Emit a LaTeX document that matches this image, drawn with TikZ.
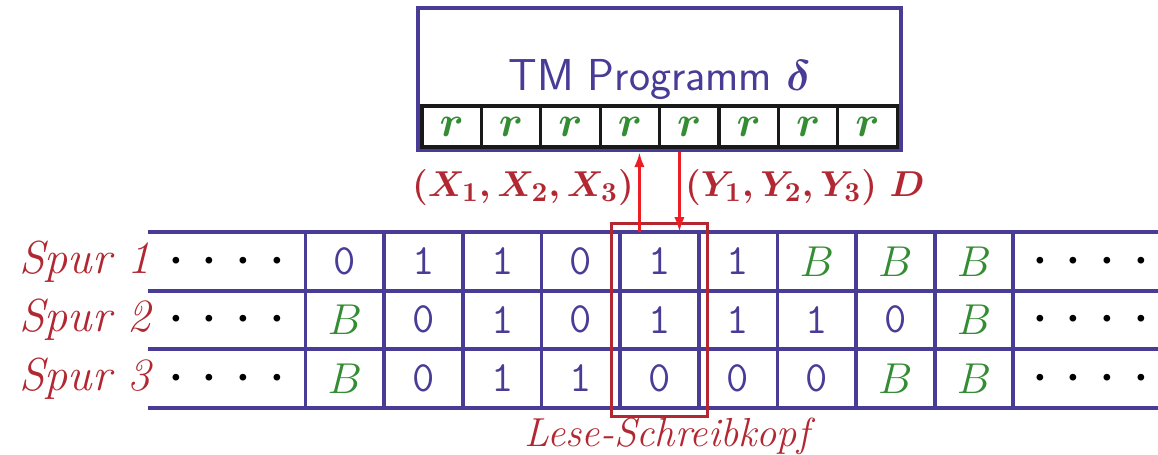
\documentclass[tikz,border=0pt]{standalone}
\usepackage{amsmath, amsfonts}
\usepackage{xcolor}
\usepackage{tikz}
\usetikzlibrary{arrows.meta, positioning, calc, fit}
\definecolor{tmblue}{RGB}{72,60,150}
\definecolor{tmred}{RGB}{178,40,50}
\definecolor{arrred}{RGB}{236,30,36}
\definecolor{tmgreen}{RGB}{52,140,52}
\newcommand{\tbit}[1]{\texttt{#1}}
\newcommand{\tblank}{{\color{tmgreen}$B$}}
\newcommand{\tapedots}{{\boldmath$\cdot$\hspace{8pt}$\cdot$\hspace{8pt}$\cdot$\hspace{8pt}$\cdot$}}
\tikzstyle{progbox} = [rectangle, draw=tmblue, line width=1.6pt, minimum width=193.2pt, minimum height=56.8pt, inner sep=0pt]
\tikzstyle{progcell} = [rectangle, draw=black!90, line width=1.3pt, minimum width=23.76pt, minimum height=16.4pt, inner sep=0pt, text=tmgreen]
\tikzstyle{tapecell} = [rectangle, draw=tmblue, line width=1.5pt, minimum width=31.46pt, minimum height=23.4pt, inner sep=0pt, outer sep=0pt, text=tmblue]
\tikzstyle{dotcell} = [rectangle, minimum height=23.4pt, inner sep=0pt, outer sep=0pt]
\tikzstyle{tapeline} = [draw=tmblue, line width=1.6pt]
\tikzstyle{spur} = [text=tmred, font=\fontsize{18.5}{22}\selectfont\itshape]
\tikzstyle{headbox} = [draw=tmred, line width=1.2pt, inner sep=3.4pt]
\tikzstyle{arrow} = [line width=1.5pt, arrred, ->, >={Latex[length=6pt, width=4.2pt]}]
\tikzstyle{rwlabel} = [inner sep=1.5pt, text=tmred, yshift=2pt, font=\fontsize{15.6}{18}\selectfont]

\begin{document}
\begin{tikzpicture}[x=0.4pt, y=-0.4pt, font=\LARGE]
    \useasboundingbox (0,0) rectangle (1158,454);

    % program box
    \node (prog) [progbox] at (659.5,79) {};
    \node (title) [anchor=base, text=tmblue, font=\fontsize{17.9}{21}\selectfont\sffamily] at (659.5,90) {TM Programm $\boldsymbol{\delta}$};
    \foreach \i in {1,...,8}
        \node (r\i) [progcell] at ({422+59.4*(\i-0.5)},126.5) {$\boldsymbol{r}$};

    % tape with three tracks
    \foreach \row/\y in {1/261.25, 2/319.75, 3/378.25} {
        \node (spur\row) [spur] at (85,\y) {Spur \row};
        \node (left\row) [dotcell, minimum width=63pt] at (226.75,\y) {\tapedots};
        \node (right\row) [dotcell, minimum width=57.84pt] at (1085.7,\y) {\hspace{4pt}\tapedots};
    }
    \foreach \s [count=\c] in {\tbit0,\tbit1,\tbit1,\tbit0,\tbit1,\tbit1,\tblank,\tblank,\tblank}
        \node (t1\c) [tapecell] at ({305.5+78.65*(\c-0.5)},261.25) {\s};
    \foreach \s [count=\c] in {\tblank,\tbit0,\tbit1,\tbit0,\tbit1,\tbit1,\tbit1,\tbit0,\tblank}
        \node (t2\c) [tapecell] at ({305.5+78.65*(\c-0.5)},319.75) {\s};
    \foreach \s [count=\c] in {\tblank,\tbit0,\tbit1,\tbit1,\tbit0,\tbit0,\tbit0,\tblank,\tblank}
        \node (t3\c) [tapecell] at ({305.5+78.65*(\c-0.5)},378.25) {\s};
    \foreach \row in {1,2,3}
        \draw [tapeline] (left\row.north west) -- (right\row.north east);
    \draw [tapeline] (left3.south west) -- (right3.south east);

    % read-write head
    \node (head) [headbox, fit=(t15)(t35)] {};
    \node (headlbl) [spur, below=0pt of head, inner sep=0pt, xshift=3pt, font=\fontsize{16.2}{19}\selectfont\itshape] {Lese-Schreibkopf};

    \coordinate (rd) at ([xshift=-8pt]t15.north);
    \coordinate (wr) at ([xshift=8pt]t15.north);
    \draw [arrow] (rd) -- node[rwlabel, anchor=east] {$\boldsymbol{(X_1, X_2, X_3)}$} (rd |- prog.south);
    \draw [arrow] (wr |- prog.south) -- node[rwlabel, anchor=west] {$\boldsymbol{(Y_1, Y_2, Y_3)}$\hspace{5pt}$\boldsymbol{D}$} (wr);
\end{tikzpicture}
\end{document}
